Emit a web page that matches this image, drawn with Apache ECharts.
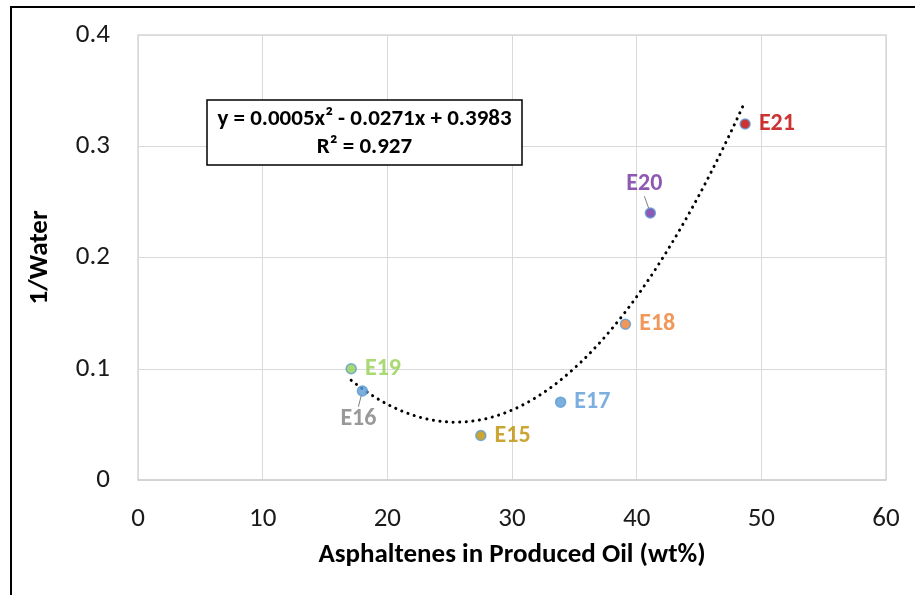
<!DOCTYPE html>
<html>
<head>
<meta charset="utf-8">
<script src="https://cdn.jsdelivr.net/npm/echarts@6/dist/echarts.min.js"></script>
<style>
  html, body { margin: 0; padding: 0; background: #fff; }
  #chart { width: 915px; height: 595px; }
</style>
</head>
<body>
<div id="chart"></div>
<script>
// Samples: asphaltene content of produced oil vs. inverse water
const sampleNames = ['E15', 'E16', 'E17', 'E18', 'E19', 'E20', 'E21'];
const asphaltenes = [27.5, 18.0, 33.9, 39.1, 17.1, 41.1, 48.7];
const invWater = [0.04, 0.08, 0.07, 0.14, 0.10, 0.24, 0.32];

const xTicks = [0, 10, 20, 30, 40, 50, 60];
const yTicks = [0, 0.1, 0.2, 0.3, 0.4];

const equationText = 'y = 0.0005x\u00B2 - 0.0271x + 0.3983';
const r2Text = 'R\u00B2 = 0.927';

// Per-sample styling
const fillColors = {
  E15: '#BF9000', E16: '#5B9BD5', E17: '#5B9BD5', E18: '#ED7D31',
  E19: '#92D050', E20: '#7030A0', E21: '#C00000'
};
const labelColors = {
  E15: '#BF9000', E16: '#7F7F7F', E17: '#5B9BD5', E18: '#ED7D31',
  E19: '#92D050', E20: '#7030A0', E21: '#C00000'
};

const FONT = 'Carlito, Lato, "Open Sans", sans-serif';

// Least-squares quadratic fit through the samples
function quadFit(xs, ys) {
  let s = [0, 0, 0, 0, 0], t = [0, 0, 0];
  for (let i = 0; i < xs.length; i++) {
    let p = 1;
    for (let k = 0; k < 5; k++) { s[k] += p; if (k < 3) t[k] += p * ys[i]; p *= xs[i]; }
  }
  const M = [[s[0], s[1], s[2], t[0]], [s[1], s[2], s[3], t[1]], [s[2], s[3], s[4], t[2]]];
  for (let c = 0; c < 3; c++) {
    for (let r = c + 1; r < 3; r++) {
      const f = M[r][c] / M[c][c];
      for (let k = c; k < 4; k++) M[r][k] -= f * M[c][k];
    }
  }
  const b = [0, 0, 0];
  for (let r = 2; r >= 0; r--) {
    let v = M[r][3];
    for (let k = r + 1; k < 3; k++) v -= M[r][k] * b[k];
    b[r] = v / M[r][r];
  }
  return b; // c0, c1, c2
}

const coef = quadFit(asphaltenes, invWater);
const xMin = Math.min(...asphaltenes), xMax = Math.max(...asphaltenes);
const trend = [];
for (let i = 0; i <= 120; i++) {
  const x = xMin + (xMax - xMin) * i / 120;
  trend.push([x, coef[0] + coef[1] * x + coef[2] * x * x]);
}

// Labels pulled away from their point, with a leader line
const labelOffsets = {
  E20: { position: 'top', dx: -6, dy: -5 },
  E16: { position: 'bottom', dx: -4, dy: 4 }
};

const points = sampleNames.map((n, i) => {
  const off = labelOffsets[n];
  const item = {
    name: n,
    value: [asphaltenes[i], invWater[i]],
    itemStyle: { color: fillColors[n], borderColor: '#5B9BD5', borderWidth: 1.5 },
    label: {
      show: true,
      formatter: n,
      position: off ? off.position : 'right',
      distance: off ? 6 : 8,
      color: labelColors[n],
      fontFamily: FONT,
      fontWeight: 'bold',
      fontSize: 24
    },
    labelLine: { show: !!off, lineStyle: { color: '#7F7F7F', width: 1 } }
  };
  return item;
});

const chart = echarts.init(document.getElementById('chart'), null, { renderer: 'canvas' });

chart.setOption({
  animation: false,
  backgroundColor: '#fff',
  grid: {
    left: 138, right: 29, top: 35, bottom: 115,
    show: true, borderColor: '#D9D9D9', borderWidth: 1.5, backgroundColor: 'transparent'
  },
  xAxis: {
    type: 'value',
    min: xTicks[0], max: xTicks[xTicks.length - 1], interval: 10,
    name: 'Asphaltenes in Produced Oil (wt%)',
    nameLocation: 'middle', nameGap: 62,
    nameTextStyle: { fontFamily: FONT, fontWeight: 'bold', fontSize: 27, color: '#000' },
    axisLine: { show: true, lineStyle: { color: '#D0D0D0', width: 1.5 } },
    axisTick: { show: false },
    splitLine: { show: true, lineStyle: { color: '#D9D9D9', width: 1 } },
    axisLabel: { margin: 26, fontFamily: FONT, fontSize: 27, color: '#1a1a1a' }
  },
  yAxis: {
    type: 'value',
    min: yTicks[0], max: yTicks[yTicks.length - 1], interval: 0.1,
    name: '1/Water',
    nameLocation: 'middle', nameGap: 84, nameRotate: 90,
    nameTextStyle: { fontFamily: FONT, fontWeight: 'bold', fontSize: 27, color: '#000' },
    axisLine: { show: false },
    axisTick: { show: false },
    splitLine: { show: true, lineStyle: { color: '#D9D9D9', width: 1 } },
    axisLabel: {
      margin: 28, fontFamily: FONT, fontSize: 27, color: '#1a1a1a',
      formatter: v => String(Math.round(v * 10) / 10)
    }
  },
  series: [
    {
      type: 'line',
      data: trend,
      showSymbol: false,
      symbol: 'none',
      smooth: false,
      lineStyle: { color: '#000', width: 3, type: [0.1, 6.5], cap: 'round' },
      z: 2,
      silent: true
    },
    {
      type: 'scatter',
      data: points,
      symbol: 'circle',
      symbolSize: 10,
      z: 3,
      labelLayout: function (params) {
        const off = labelOffsets[sampleNames[params.dataIndex]];
        return off ? { dx: off.dx, dy: off.dy } : {};
      }
    }
  ],
  graphic: [
    {
      type: 'polyline',
      shape: { points: [[11, 595], [11, 7], [915, 7]] },
      style: { stroke: '#000', lineWidth: 2, fill: null },
      z: 10
    },
    {
      type: 'rect',
      shape: { x: 207, y: 100, width: 315, height: 65 },
      style: { fill: '#fff', stroke: '#000', lineWidth: 1.5 },
      z: 10
    },
    {
      type: 'text',
      x: 364.5, y: 119,
      style: {
        text: equationText, align: 'center', verticalAlign: 'middle',
        fontFamily: FONT, fontWeight: 'bold', fontSize: 23, fill: '#000'
      },
      z: 11
    },
    {
      type: 'text',
      x: 364.5, y: 147,
      style: {
        text: r2Text, align: 'center', verticalAlign: 'middle',
        fontFamily: FONT, fontWeight: 'bold', fontSize: 23, fill: '#000'
      },
      z: 11
    }
  ]
});
</script>
</body>
</html>
